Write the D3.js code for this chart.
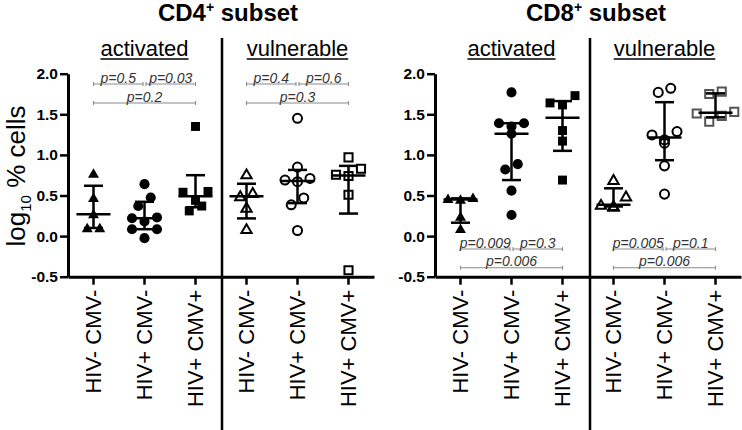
<!DOCTYPE html>
<html><head><meta charset="utf-8">
<script src="https://cdn.jsdelivr.net/npm/d3@7"></script>
<style>
html,body{margin:0;padding:0;background:#fff;}
svg{display:block;font-family:Arial,"Liberation Sans",Helvetica,sans-serif;}
</style></head>
<body><svg id="chart" width="742" height="430"></svg>
<script>
// ---------------- DATA ----------------
const categories = ["HIV- CMV-", "HIV+ CMV-", "HIV+ CMV+"];
const subsets = ["activated", "vulnerable"];
const panelTitles = ["CD4", "CD8"];
const yTickValues = [-0.5, 0.0, 0.5, 1.0, 1.5, 2.0];
const yTickLabels = ["-0.5", "0.0", "0.5", "1.0", "1.5", "2.0"];

// CD4+ subset, activated
const cd4Activated = [
  [0.77, 0.47, 0.27, 0.10, 0.10],
  [0.64, 0.475, 0.37, 0.23, 0.22, 0.18, 0.085, 0.085, -0.025],
  [1.35, 0.55, 0.54, 0.44, 0.37, 0.31]
];
// CD4+ subset, vulnerable
const cd4Vulnerable = [
  [0.76, 0.53, 0.49, 0.35, 0.086],
  [1.45, 0.85, 0.71, 0.69, 0.67, 0.47, 0.385, 0.069],
  [0.97, 0.83, 0.755, 0.74, 0.51, -0.42]
];
// CD8+ subset, activated
const cd8Activated = [
  [0.47, 0.46, 0.45, 0.24, 0.09],
  [1.77, 1.39, 1.39, 1.35, 1.26, 0.886, 0.82, 0.56, 0.26],
  [1.73, 1.64, 1.615, 1.30, 1.17, 0.69]
];
// CD8+ subset, vulnerable
const cd8Vulnerable = [
  [0.69, 0.487, 0.385, 0.37, 0.36],
  [1.82, 1.77, 1.287, 1.246, 1.185, 1.144, 0.865, 0.517],
  [1.78, 1.75, 1.53, 1.51, 1.48, 1.41]
];

// p-value comparisons: [groupA, groupB]
const comparisons = [[0, 1], [1, 2], [0, 2]];
const cd4ActivatedP = ["p=0.5", "p=0.03", "p=0.2"];
const cd4VulnerableP = ["p=0.4", "p=0.6", "p=0.3"];
const cd8ActivatedP = ["p=0.009", "p=0.3", "p=0.006"];
const cd8VulnerableP = ["p=0.005", "p=0.1", "p=0.006"];

// ---------------- LAYOUT ----------------
const svg = d3.select("#chart");
svg.append("rect").attr("width", 742).attr("height", 430).attr("fill", "#fff");

const y = d3.scaleLinear().domain([-0.5, 2.0]).range([276.7, 73.7]);

const panels = [
  { title: panelTitles[0], titleX: 228, axisX: 68, dividerX: 222,
    data: [cd4Activated, cd4Vulnerable], pvals: [cd4ActivatedP, cd4VulnerableP],
    pRows: [84, 103] },
  { title: panelTitles[1], titleX: 596, axisX: 435, dividerX: 590,
    data: [cd8Activated, cd8Vulnerable], pvals: [cd8ActivatedP, cd8VulnerableP],
    pRows: [249, 267.7] }
];

const shapes = [d3.symbolTriangle, d3.symbolCircle, d3.symbolSquare];
const filledSizes = [52, 80, 80];
const openSizes = [46, 64, 66];

function quartile(sorted, p) {
  const n = sorted.length;
  const pos = p * (n + 1);
  if (pos <= 1) return sorted[0];
  if (pos >= n) return sorted[n - 1];
  const lo = Math.floor(pos);
  return sorted[lo - 1] + (pos - lo) * (sorted[lo] - sorted[lo - 1]);
}

// simple row-based swarm layout (as scatter dot plots do)
function swarm(values, step, rowTol) {
  const pts = values.map(v => ({ v, py: y(v) })).sort((a, b) => a.py - b.py);
  const rows = [];
  pts.forEach(p => {
    const r = rows[rows.length - 1];
    if (r && p.py - r[0].py < rowTol) r.push(p); else rows.push([p]);
  });
  rows.forEach(r => {
    const k = r.length;
    const slots = d3.range(k).map(i => (i - (k - 1) / 2) * step);
    const order = [];
    let lo = 0, hi = k - 1;
    while (lo <= hi) {
      if (hi !== lo) { order.push(slots[hi]); order.push(slots[lo]); }
      else order.push(slots[hi]);
      hi--; lo++;
    }
    r.forEach((p, i) => { p.dx = order[i]; });
  });
  return pts;
}

const font = 'Arial,"Liberation Sans",Helvetica,sans-serif';

// y-axis label
const yl = svg.append("text")
  .attr("transform", "translate(25,176) rotate(-90)")
  .attr("text-anchor", "middle")
  .style("font-size", "26px").style("font-family", font).attr("fill", "#000");
yl.append("tspan").text("log");
yl.append("tspan").text("10").style("font-size", "15px").attr("dy", 6);
yl.append("tspan").text(" % cells").attr("dy", -6);

panels.forEach(P => {
  const keys = [];
  subsets.forEach((s, si) => categories.forEach((c, ci) => keys.push(si + "|" + ci)));
  const x = d3.scaleBand().domain(keys).range([P.axisX, P.axisX + 306]);
  const cx = k => x(k) + x.bandwidth() / 2;

  // title
  const t = svg.append("text").attr("x", P.titleX).attr("y", 21)
    .attr("text-anchor", "middle").style("font-size", "24px").style("font-weight", "bold")
    .style("font-family", font);
  t.append("tspan").text(P.title);
  t.append("tspan").text("+").style("font-size", "14px").attr("dy", -9);
  t.append("tspan").text(" subset").attr("dy", 9);

  // divider
  svg.append("line").attr("x1", P.dividerX).attr("x2", P.dividerX)
    .attr("y1", 38).attr("y2", 430).attr("stroke", "#000").attr("stroke-width", 2.5);

  // subtitles
  subsets.forEach((s, si) => {
    const mid = (cx(si + "|0") + cx(si + "|2")) / 2;
    const st = svg.append("text").attr("x", mid).attr("y", 56).attr("text-anchor", "middle")
      .style("font-size", "22px").style("font-family", font).text(s);
    const w = st.node().getComputedTextLength();
    svg.append("line").attr("x1", mid - w / 2).attr("x2", mid + w / 2)
      .attr("y1", 59).attr("y2", 59).attr("stroke", "#000").attr("stroke-width", 1.6);
  });

  // axes
  const gy = svg.append("g").attr("transform", `translate(${P.axisX},0)`)
    .call(d3.axisLeft(y).tickValues(yTickValues)
      .tickFormat((d, i) => yTickLabels[i]).tickSize(8).tickSizeOuter(0).tickPadding(2));
  gy.select(".domain").attr("stroke-width", 3);
  gy.selectAll(".tick line").attr("stroke-width", 2.5);
  gy.selectAll(".tick text").style("font-size", "15.5px").style("font-weight", "bold")
    .style("font-family", font).attr("fill", "#000");

  const gx = svg.append("g").attr("transform", `translate(0,${y(-0.5)})`)
    .call(d3.axisBottom(x).tickSize(8).tickSizeOuter(0)
      .tickFormat(k => categories[+k.split("|")[1]]));
  gx.select(".domain").attr("stroke-width", 3);
  gx.selectAll(".tick line").attr("stroke-width", 2.5);
  gx.selectAll(".tick text")
    .attr("transform", "rotate(-90)").attr("x", -13).attr("y", 0).attr("dy", "0.35em")
    .style("text-anchor", "end").style("font-size", "22px").style("font-family", font)
    .attr("fill", "#000");

  // points and summary bars
  subsets.forEach((s, si) => {
    const open = si === 1;
    P.data[si].forEach((vals, ci) => {
      const k = si + "|" + ci;
      const c = cx(k);
      const pts = swarm(vals, 12.5, 10);
      const sym = d3.symbol().type(shapes[ci]).size(open ? openSizes[ci] : filledSizes[ci]);
      const grey = open && ci === 2 && P.title === "CD8";
      svg.append("g").selectAll("path").data(pts).join("path")
        .attr("d", sym)
        .attr("transform", p => `translate(${c + p.dx},${p.py + (ci === 0 ? 1 : 0)})`)
        .attr("fill", open ? "none" : "#000")
        .attr("stroke", open ? (grey ? "#555" : "#000") : "none")
        .attr("stroke-width", open ? 2 : 0);

      const sorted = vals.slice().sort(d3.ascending);
      const med = d3.median(sorted), q1 = quartile(sorted, 0.25), q3 = quartile(sorted, 0.75);
      const g = svg.append("g").attr("stroke", "#000").attr("stroke-width", 2.5);
      g.append("line").attr("x1", c).attr("x2", c).attr("y1", y(q1)).attr("y2", y(q3));
      g.append("line").attr("x1", c - 17).attr("x2", c + 17).attr("y1", y(med)).attr("y2", y(med));
      [q1, q3].forEach(q => g.append("line").attr("x1", c - 9.5).attr("x2", c + 9.5)
        .attr("y1", y(q)).attr("y2", y(q)));
    });

    // p-value brackets
    comparisons.forEach((cmp, j) => {
      const ly = P.pRows[j < 2 ? 0 : 1];
      let x1 = cx(si + "|" + cmp[0]), x2 = cx(si + "|" + cmp[1]);
      if (j === 0) x2 -= 1.5;
      if (j === 1) x1 += 1.5;
      const g = svg.append("g").attr("stroke", "#8a8a8a").attr("stroke-width", 1.1);
      g.append("line").attr("x1", x1).attr("x2", x2).attr("y1", ly).attr("y2", ly);
      [x1, x2].forEach(xx => g.append("line").attr("x1", xx).attr("x2", xx)
        .attr("y1", ly - 2).attr("y2", ly + 2));
      svg.append("text").attr("x", (x1 + x2) / 2).attr("y", ly - 1.5)
        .attr("text-anchor", "middle").style("font-size", "14px").style("font-style", "italic")
        .style("font-family", font).attr("fill", "#333").text(P.pvals[si][j]);
    });
  });
});
</script></body></html>
